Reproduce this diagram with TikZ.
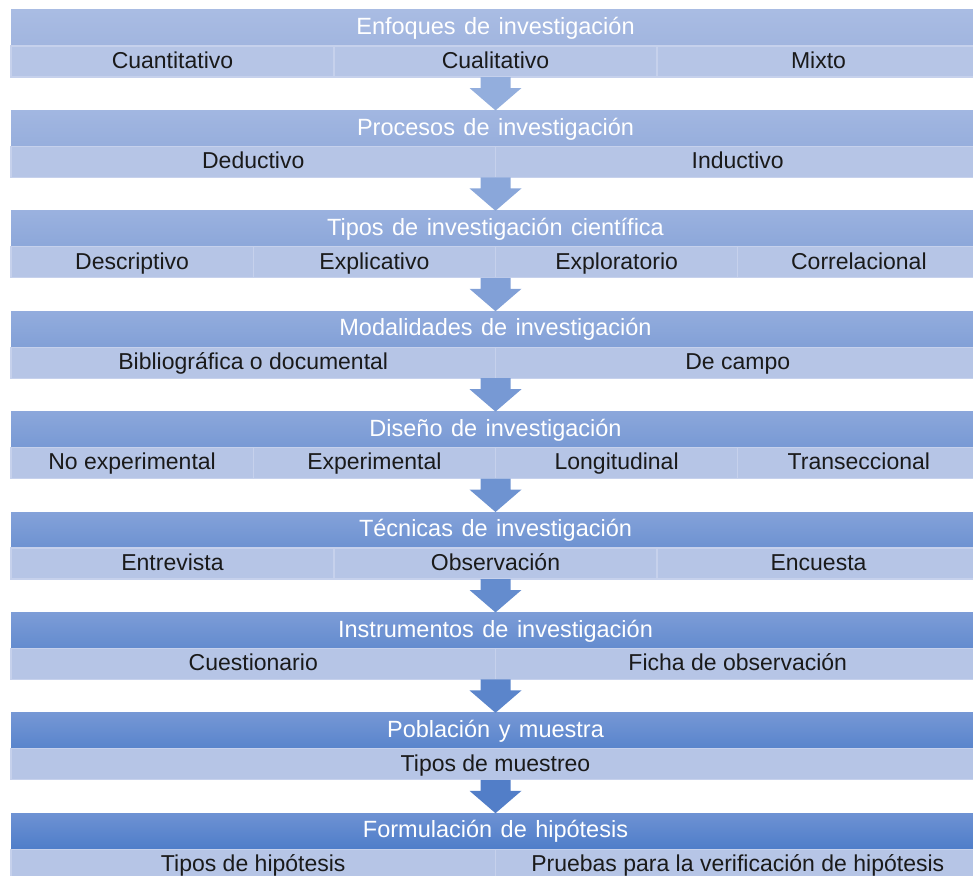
\documentclass[tikz,border=0pt]{standalone}
\usepackage{fontspec}
\setmainfont{Liberation Sans}
\usetikzlibrary{calc}
\definecolor{hlt}{HTML}{A9BCE3}
\definecolor{hdt}{HTML}{6E92D3}
\definecolor{hlb}{HTML}{A1B5DF}
\definecolor{hdb}{HTML}{4E7DC9}
\definecolor{alt}{HTML}{98B1DF}
\definecolor{adk}{HTML}{4D7BC6}
\definecolor{rowc}{HTML}{B6C5E6}
\definecolor{rowline}{HTML}{C6D1EC}
\definecolor{txt}{HTML}{1A1A1A}
\newcommand\myhdrfont{\fontsize{23.5}{27}\selectfont\spaceskip 0.36em plus 0.1em\relax}
\newcommand\mycellfont{\fontsize{23}{27}\selectfont}
\begin{document}
\begin{tikzpicture}[x=1pt,y=-1pt,
  hdr/.style={minimum height=36pt, minimum width=969pt, inner sep=0pt, outer sep=0pt,
    text height=17pt, text depth=3.5pt,
    text=white, font=\myhdrfont, anchor=north west},
  cell/.style={minimum height=31pt, inner sep=0pt, outer sep=0pt, anchor=north west,
    text height=17pt, text depth=3.5pt,
    fill=rowc, draw=rowline, line width=1.2pt, text=txt, font=\mycellfont},
  blockarrow/.style={draw=none}]
\useasboundingbox (0,0) rectangle (973,875);
\clip (0,0) rectangle (973,875);
\foreach \i/\n/\t/\cells in {
  0/3/{Enfoques de investigación}/{Cuantitativo,Cualitativo,Mixto},
  1/2/{Procesos de investigación}/{Deductivo,Inductivo},
  2/4/{Tipos de investigación científica}/{Descriptivo,Explicativo,Exploratorio,Correlacional},
  3/2/{Modalidades de investigación}/{Bibliográfica o documental,De campo},
  4/4/{Diseño de investigación}/{No experimental,Experimental,Longitudinal,Transeccional},
  5/3/{Técnicas de investigación}/{Entrevista,Observación,Encuesta},
  6/2/{Instrumentos de investigación}/{Cuestionario,Ficha de observación},
  7/1/{Población y muestra}/{Tipos de muestreo},
  8/2/{Formulación de hipótesis}/{Tipos de hipótesis,Pruebas para la verificación de hipótesis}}{
  \pgfmathsetmacro\y{10+100.4*\i}
  \pgfmathsetmacro\pct{100*\i/8}
  \colorlet{htop}{hdt!\pct!hlt}
  \colorlet{hbot}{hdb!\pct!hlb}
  \node[hdr, top color=htop, bottom color=hbot] (h\i) at (11,\y) {\t};
  \pgfmathsetmacro\w{969/\n}
  \foreach \c [count=\k from 0] in \cells {
    \node[cell, minimum width=\w pt] (c\i-\k) at ({11+\k*\w},{\y+36}) {\c};
  }
}
\foreach \i in {0,...,7}{
  \pgfmathtruncatemacro\j{\i+1}
  \pgfmathsetmacro\pct{100*(\i+0.5)/8}
  \colorlet{acol}{adk!\pct!alt}
  \fill[acol, blockarrow] ($(h\i.south)+(-15,31)$) -- ++(30,0) -- ++(0,11) -- ++(11,0)
    -- (h\j.north) -- ++(-26,-22.4) -- ++(11,0) -- cycle;
}
\end{tikzpicture}
\end{document}
